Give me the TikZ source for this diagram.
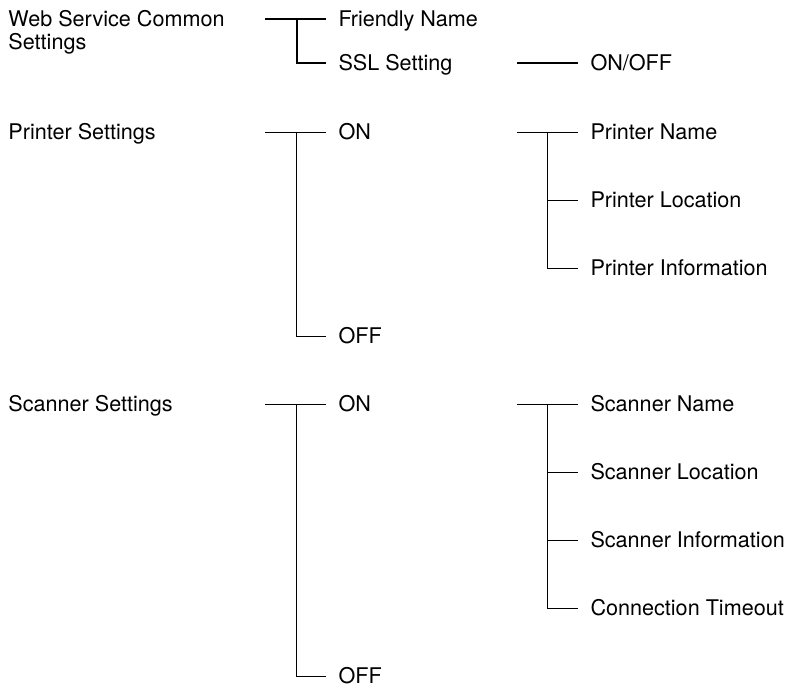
\documentclass[tikz,border=0pt]{standalone}
\usepackage{fontspec}
\setmainfont{TeX Gyre Heros}
\usetikzlibrary{calc}

\begin{document}
\begin{tikzpicture}[x=.5pt,y=-.5pt,font=\fontsize{10.8}{11.6}\selectfont,line width=.5pt,
 item/.style={anchor=west,inner xsep=6pt,inner ysep=0pt,text height=7.7pt,text depth=0pt},
 head/.style={anchor=west,inner sep=0pt,text height=7.7pt,text depth=0pt},
 heavy/.style={line width=1pt}]
 \useasboundingbox(0,0)rectangle(790,686);
 \node[anchor=north west,inner sep=0pt,align=left](web)at(8,10){Web Service Common\\Settings};
 \node[item](fn)at(326,19){Friendly Name};\node[item](ssl)at(326,63){SSL Setting};
 \node[item](sslv)at(578,63){ON/OFF};
 \coordinate(w0)at(265,19);\coordinate(wj)at(297,19);\coordinate(s0)at(517,63);
 \draw[line width=.7pt](w0)--(fn.west);
 \draw[heavy](wj)--(wj|-ssl.west)--(ssl.west);
 \draw[heavy](s0)--(sslv.west);
 \node[head](prt)at(8,132){Printer Settings};
 \node[item](pon)at(326,132){ON};\node[item](poff)at(326,336){OFF};
 \node[item](pname)at(578,132){Printer Name};\node[item](ploc)at(578,200){Printer Location};
 \node[item](pinfo)at(578,268){Printer Information};
 \coordinate(p0)at(265,132);\coordinate(pj)at(296,132);
 \coordinate(q0)at(517,132);\coordinate(qj)at(547,132);
 \draw(p0)--(pon.west);\draw(pj)--(pj|-poff.west)--(poff.west);
 \draw(q0)--(pname.west);\draw(qj)--(qj|-pinfo.west)--(pinfo.west);\draw(qj|-ploc.west)--(ploc.west);
 \node[head](scn)at(8,404){Scanner Settings};
 \node[item](son)at(326,404){ON};\node[item](soff)at(326,676){OFF};
 \node[item](sname)at(578,404){Scanner Name};\node[item](sloc)at(578,472){Scanner Location};
 \node[item](sinfo)at(578,540){Scanner Information};\node[item](stime)at(578,608){Connection Timeout};
 \coordinate(r0)at(265,404);\coordinate(rj)at(296,404);
 \coordinate(t0)at(517,404);\coordinate(tj)at(547,404);
 \draw(r0)--(son.west);\draw(rj)--(rj|-soff.west)--(soff.west);
 \draw(t0)--(sname.west);\draw(tj)--(tj|-stime.west)--(stime.west);
 \draw(tj|-sloc.west)--(sloc.west);\draw(tj|-sinfo.west)--(sinfo.west);
\end{tikzpicture}
\end{document}
